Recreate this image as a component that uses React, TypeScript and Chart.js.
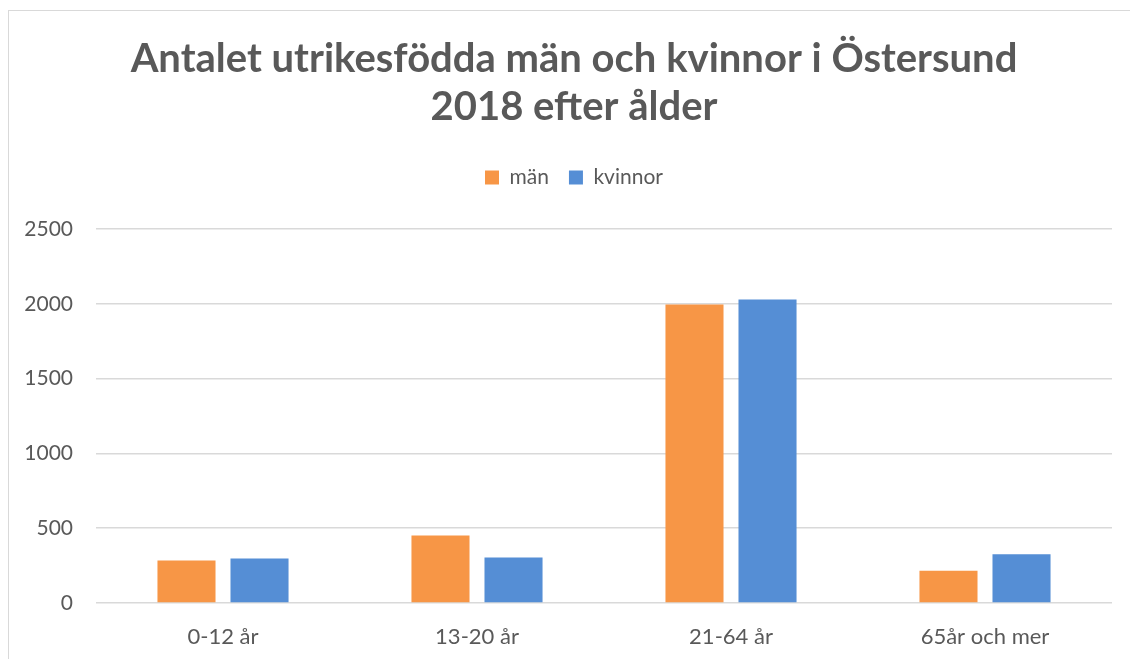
import React, { useEffect, useRef } from "react";
import { Chart, registerables } from "chart.js";

Chart.register(...registerables);

const categories = ["0-12 år", "13-20 år", "21-64 år", "65år och mer"];
const manValues = [284, 451, 1995, 216];
const kvinnorValues = [297, 304, 2029, 326];
const titleLines = ["Antalet utrikesfödda män och kvinnor i Östersund", "2018 efter ålder"];
const yTicks = [0, 500, 1000, 1500, 2000, 2500];

const FONT = "Lato, 'Open Sans', sans-serif";
const TEXT = "#595959";
const GRID = "#d9d9d9";

export default function App() {
  const ref = useRef<HTMLCanvasElement | null>(null);

  useEffect(() => {
    if (!ref.current) return;
    const legendSpacer = {
      id: "legendSpacer",
      afterInit(chart: any) {
        const lg = chart.legend;
        if (!lg) return;
        const orig = lg.fit;
        lg.fit = function () {
          orig.call(this);
          this.height = 82;
        };
      },
    };
    const chart = new Chart(ref.current, {
      type: "bar",
      data: {
        labels: categories,
        datasets: [
          {
            label: "män",
            data: manValues,
            backgroundColor: "#F79646",
            barPercentage: 0.795,
            categoryPercentage: 0.575,
          },
          {
            label: "kvinnor",
            data: kvinnorValues,
            backgroundColor: "#558ED5",
            barPercentage: 0.795,
            categoryPercentage: 0.575,
          },
        ],
      },
      options: {
        animation: false,
        responsive: false,
        maintainAspectRatio: false,
        layout: { padding: { left: 18, right: 0, top: 0, bottom: 0 } },
        plugins: {
          title: {
            display: true,
            text: titleLines,
            color: TEXT,
            font: { family: FONT, size: 40, weight: "bold", lineHeight: 1.2 },
            padding: { top: 35, bottom: 16 },
          },
          legend: {
            display: true,
            position: "top",
            labels: {
              color: TEXT,
              font: { family: FONT, size: 21 },
              boxWidth: 14,
              boxHeight: 14,
              padding: 20,
            },
          },
          tooltip: { enabled: false },
        },
        scales: {
          x: {
            grid: { display: false, drawTicks: false },
            border: { display: false },
            ticks: {
              color: TEXT,
              font: { family: FONT, size: 22 },
              padding: 21,
            },
            afterFit: (scale: any) => {
              scale.height = 56;
            },
          },
          y: {
            min: 0,
            max: 2500,
            afterBuildTicks: (scale: any) => {
              scale.ticks = yTicks.map((v) => ({ value: v }));
            },
            grid: { color: GRID, lineWidth: 1.5, drawTicks: false },
            border: { display: false },
            ticks: {
              color: TEXT,
              font: { family: FONT, size: 21 },
              padding: 23,
              callback: (v: any) => String(v),
            },
            afterFit: (scale: any) => {
              scale.width = 78;
            },
          },
          yRight: {
            type: "linear",
            position: "right",
            display: true,
            grid: { display: false, drawTicks: false },
            border: { display: false },
            ticks: { display: false },
            afterFit: (scale: any) => {
              scale.width = 18;
            },
          },
        },
      },
      plugins: [legendSpacer],
    });
    return () => chart.destroy();
  }, []);

  return (
    <div style={{ position: "fixed", left: 0, top: 0, width: 1130, height: 659, background: "#fff" }}>
      <canvas ref={ref} width={1130} height={659} style={{ position: "absolute", left: 0, top: 0 }} />
      <div
        style={{
          position: "absolute",
          left: 8,
          top: 10,
          width: 1130,
          height: 660,
          borderTop: "1.5px solid #d9d9d9",
          borderLeft: "1.5px solid #d9d9d9",
          pointerEvents: "none",
        }}
      />
    </div>
  );
}
